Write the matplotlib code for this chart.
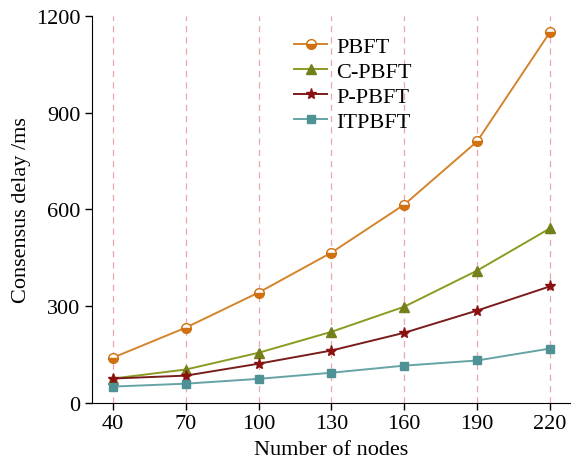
import matplotlib.pyplot as plt

nodes = [40, 70, 100, 130, 160, 190, 220]
pbft = [140, 233, 342, 466, 615, 811, 1150]
c_pbft = [75, 103, 155, 220, 298, 410, 541]
p_pbft = [75, 84, 121, 162, 217, 286, 361]
itpbft = [50, 59, 74, 93, 115, 131, 168]

plt.rcParams["font.family"] = ["Liberation Serif", "DejaVu Serif"]

fig = plt.figure(figsize=(5.71, 4.64), dpi=100)
ax = fig.add_axes([0.161, 0.13, 0.839, 0.833])

for x in nodes:
    ax.axvline(x, color="#eaa8a8", linestyle=(0, (5, 4)), linewidth=0.9, zorder=0)

ax.plot(nodes, pbft, "-o", color="#d4842a", mfc="#d07010", mfcalt="white",
        fillstyle="bottom", mec="#d07010", ms=7, lw=1.4, label="PBFT")
ax.plot(nodes, c_pbft, "-^", color="#8c9a22", mfc="#74801a", mec="#74801a",
        ms=6.5, lw=1.4, label="C-PBFT")
ax.plot(nodes, p_pbft, "-*", color="#7a1c1c", mfc="#8b1010", mec="#8b1010",
        ms=8, lw=1.4, label="P-PBFT")
ax.plot(nodes, itpbft, "-s", color="#66a3a6", mfc="#4f9296", mec="#4f9296",
        ms=5.5, lw=1.4, label="ITPBFT")

ax.set_xlim(31.3, 228.7)
ax.set_ylim(0, 1200)
ax.set_xticks(nodes)
ax.set_yticks([0, 300, 600, 900, 1200])
ax.spines["top"].set_visible(False)
ax.spines["right"].set_visible(False)
ax.tick_params(labelsize=16, direction="out", length=5, width=1)
ax.set_xlabel("Number of nodes", fontsize=16, labelpad=5)
ax.set_ylabel("Consensus delay /ms", fontsize=16, labelpad=3)

ax.legend(loc="upper left", bbox_to_anchor=(0.38, 1.0), frameon=False,
          fontsize=16, handlelength=1.5, labelspacing=0.2, handletextpad=0.4)

fig.savefig("out.png", dpi=100)
